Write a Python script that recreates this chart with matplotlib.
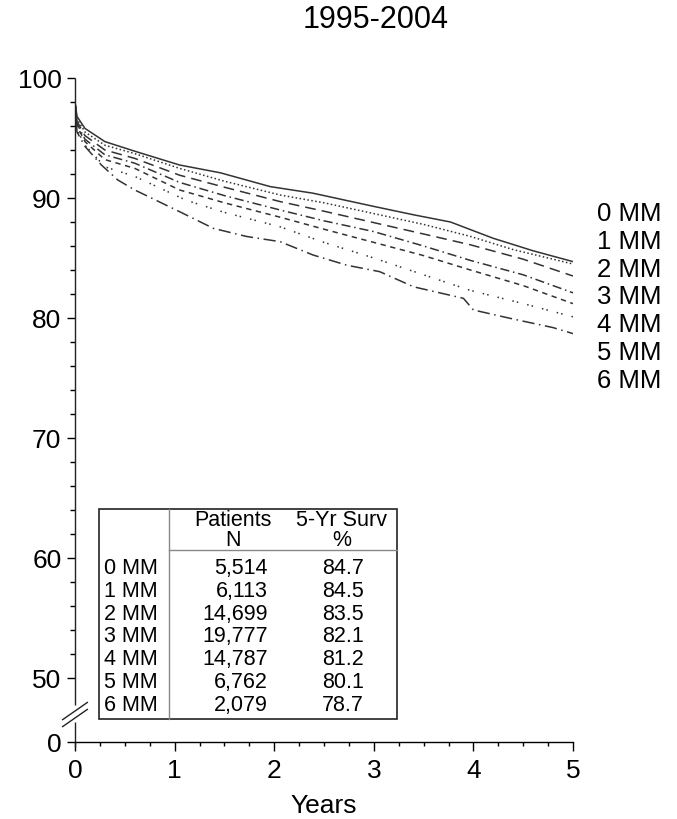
#!/usr/bin/env python3
"""
plot.py - graft survival by number of HLA mismatches, 1995-2004.
"""
import numpy as np
import matplotlib.pyplot as plt
from matplotlib.ticker import FixedLocator

plt.rcParams["font.family"] = ["Liberation Sans", "DejaVu Sans"]

# ─── Data ────────────────────────────────────────────────────────────────
GROUPS = ["0 MM", "1 MM", "2 MM", "3 MM", "4 MM", "5 MM", "6 MM"]
PATIENTS = ["5,514", "6,113", "14,699", "19,777", "14,787", "6,762", "2,079"]
SURV_5YR = ["84.7", "84.5", "83.5", "82.1", "81.2", "80.1", "78.7"]

yrs_0 = [0, 0.02, 0.1, 0.3, 0.6, 1.05, 1.46, 1.96, 2.39, 3.0, 3.4, 3.77, 4.2, 4.37, 4.6, 5.0]
srv_0 = [98.0, 96.8, 95.8, 94.7, 93.9, 92.75, 92.1, 90.95, 90.4, 89.3, 88.6, 88.0, 86.64, 86.2, 85.6, 84.7]
yrs_1 = [0, 0.02, 0.1, 0.3, 0.6, 1.05, 1.5, 2.06, 2.5, 3.0, 3.5, 3.97, 4.4, 5.0]
srv_1 = [98.0, 96.6, 95.5, 94.4, 93.7, 92.47, 91.4, 90.25, 89.6, 88.7, 87.8, 86.8, 85.7, 84.5]
yrs_2 = [0, 0.02, 0.1, 0.3, 0.6, 1.05, 1.5, 2.06, 2.5, 3.0, 3.5, 3.97, 4.5, 5.0]
srv_2 = [98.0, 96.4, 95.2, 94.0, 93.3, 91.9, 90.9, 89.7, 88.9, 87.95, 87.0, 86.1, 84.9, 83.5]
yrs_3 = [0, 0.02, 0.1, 0.3, 0.6, 1.05, 1.5, 2.06, 2.5, 3.0, 3.5, 3.97, 4.5, 5.0]
srv_3 = [98.0, 96.2, 94.9, 93.6, 92.9, 91.3, 90.2, 89.0, 88.1, 87.2, 86.0, 84.8, 83.6, 82.1]
yrs_4 = [0, 0.02, 0.1, 0.3, 0.6, 1.05, 1.5, 2.06, 2.5, 3.0, 3.5, 3.97, 4.5, 5.0]
srv_4 = [98.0, 96.0, 94.7, 93.2, 92.47, 90.67, 89.6, 88.4, 87.4, 86.3, 85.2, 84.0, 82.7, 81.2]
yrs_5 = [0, 0.02, 0.1, 0.3, 0.6, 1.12, 1.5, 2.06, 2.5, 3.0, 3.5, 3.97, 4.5, 5.0]
srv_5 = [98.0, 95.7, 94.4, 92.6, 91.8, 89.8, 88.8, 87.6, 86.3, 85.0, 83.6, 82.3, 81.2, 80.1]
yrs_6 = [0, 0.02, 0.1, 0.265, 0.43, 0.6, 1.05, 1.39, 1.72, 2.06, 2.39, 2.73, 3.06,
         3.4, 3.9, 4.0, 4.37, 4.8, 5.0]
srv_6 = [98.0, 95.5, 94.3, 92.75, 91.5, 90.67, 88.86, 87.47, 86.8, 86.36, 85.25, 84.4, 83.86,
         82.6, 81.64, 80.67, 79.97, 79.2, 78.7]

CURVES = [(yrs_0, srv_0), (yrs_1, srv_1), (yrs_2, srv_2), (yrs_3, srv_3),
          (yrs_4, srv_4), (yrs_5, srv_5), (yrs_6, srv_6)]

STYLES = ["-", (0, (1, 1.6)), (0, (7, 4)), (0, (6, 2.5, 1, 2.5)), (0, (3.5, 3)),
          (0, (1, 2, 1, 6)), (0, (8, 3, 1, 3))]

W, H = 677, 819
ZERO_POS = 44.67  # where "0" sits below the axis break


def px(x, y):
    return x / W, 1 - y / H


def main():
    fig = plt.figure(figsize=(W / 100, H / 100), dpi=100)
    x0, y0 = px(75, 742)
    x1, y1 = px(573, 78)
    ax = fig.add_axes([x0, y0, x1 - x0, y1 - y0])

    for (t, s), ls in zip(CURVES, STYLES):
        ax.plot(t, s, color="#333333", lw=1.1, linestyle=ls)

    ax.set_xlim(0, 5)
    ax.set_ylim(ZERO_POS, 100)
    for side in ("top", "right", "left"):
        ax.spines[side].set_visible(False)
    ax.spines["bottom"].set_linewidth(1.0)

    # broken y axis
    kw = dict(color="#222222", lw=1.0, clip_on=False, solid_capstyle="butt")
    ax.plot([0, 0], [47.75, 100], **kw)
    ax.plot([0, 0], [ZERO_POS - 0.4, 46.33], **kw)
    ax.plot([-0.13, 0.13], [46.5, 48.0], **kw)
    ax.plot([-0.13, 0.13], [45.92, 47.42], **kw)

    ax.set_xticks(range(6))
    ax.xaxis.set_minor_locator(FixedLocator(np.arange(0, 5.01, 0.25)))
    ax.set_yticks([ZERO_POS, 50, 60, 70, 80, 90, 100])
    ax.set_yticklabels(["0", "50", "60", "70", "80", "90", "100"])
    ax.yaxis.set_minor_locator(FixedLocator(np.arange(50, 100.1, 2)))
    ax.tick_params(axis="x", which="major", length=6.5, width=1.0, labelsize=19, pad=6)
    ax.tick_params(axis="x", which="minor", length=3.2, width=1.0)
    ax.tick_params(axis="y", which="major", length=5.8, width=1.0, labelsize=19, pad=4)
    ax.tick_params(axis="y", which="minor", length=3.6, width=1.0)

    fig.text(*px(324, 806), "Years", ha="center", va="center", fontsize=19)
    fig.text(*px(376, 20), "1995-2004", ha="center", va="center", fontsize=22)

    # group labels on the right
    for i, g in enumerate(GROUPS):
        fig.text(*px(597, 214 + i * 27.8), g, ha="left", va="center", fontsize=18.5)

    # inset table
    bx0, by0 = px(99, 509)
    bx1, by1 = px(397, 719)
    ax.add_patch(plt.Rectangle((bx0, by1), bx1 - bx0, by0 - by1, transform=fig.transFigure,
                               fill=True, facecolor="white", edgecolor="#222222", lw=1.2,
                               zorder=5, clip_on=False))
    vx, _ = px(169, 0)
    fig.add_artist(plt.Line2D([vx, vx], [by1, by0], color="#888888", lw=1.0, zorder=6))
    _, hy = px(0, 550)
    fig.add_artist(plt.Line2D([vx, bx1], [hy, hy], color="#888888", lw=1.0, zorder=6))

    fs = 15.5
    fig.text(*px(233, 521), "Patients", ha="center", va="center", fontsize=fs, zorder=7)
    fig.text(*px(233, 540), "N", ha="center", va="center", fontsize=fs, zorder=7)
    fig.text(*px(342, 521), "5-Yr Surv", ha="center", va="center", fontsize=fs, zorder=7)
    fig.text(*px(342, 540), "%", ha="center", va="center", fontsize=fs, zorder=7)
    for i, (g, n, s) in enumerate(zip(GROUPS, PATIENTS, SURV_5YR)):
        yy = 568.5 + i * 22.8
        fig.text(*px(104, yy), g, ha="left", va="center", fontsize=fs, zorder=7)
        fig.text(*px(268, yy), n, ha="right", va="center", fontsize=fs, zorder=7)
        fig.text(*px(343, yy), s, ha="center", va="center", fontsize=fs, zorder=7)

    fig.savefig("out.png", dpi=100)


if __name__ == "__main__":
    main()
